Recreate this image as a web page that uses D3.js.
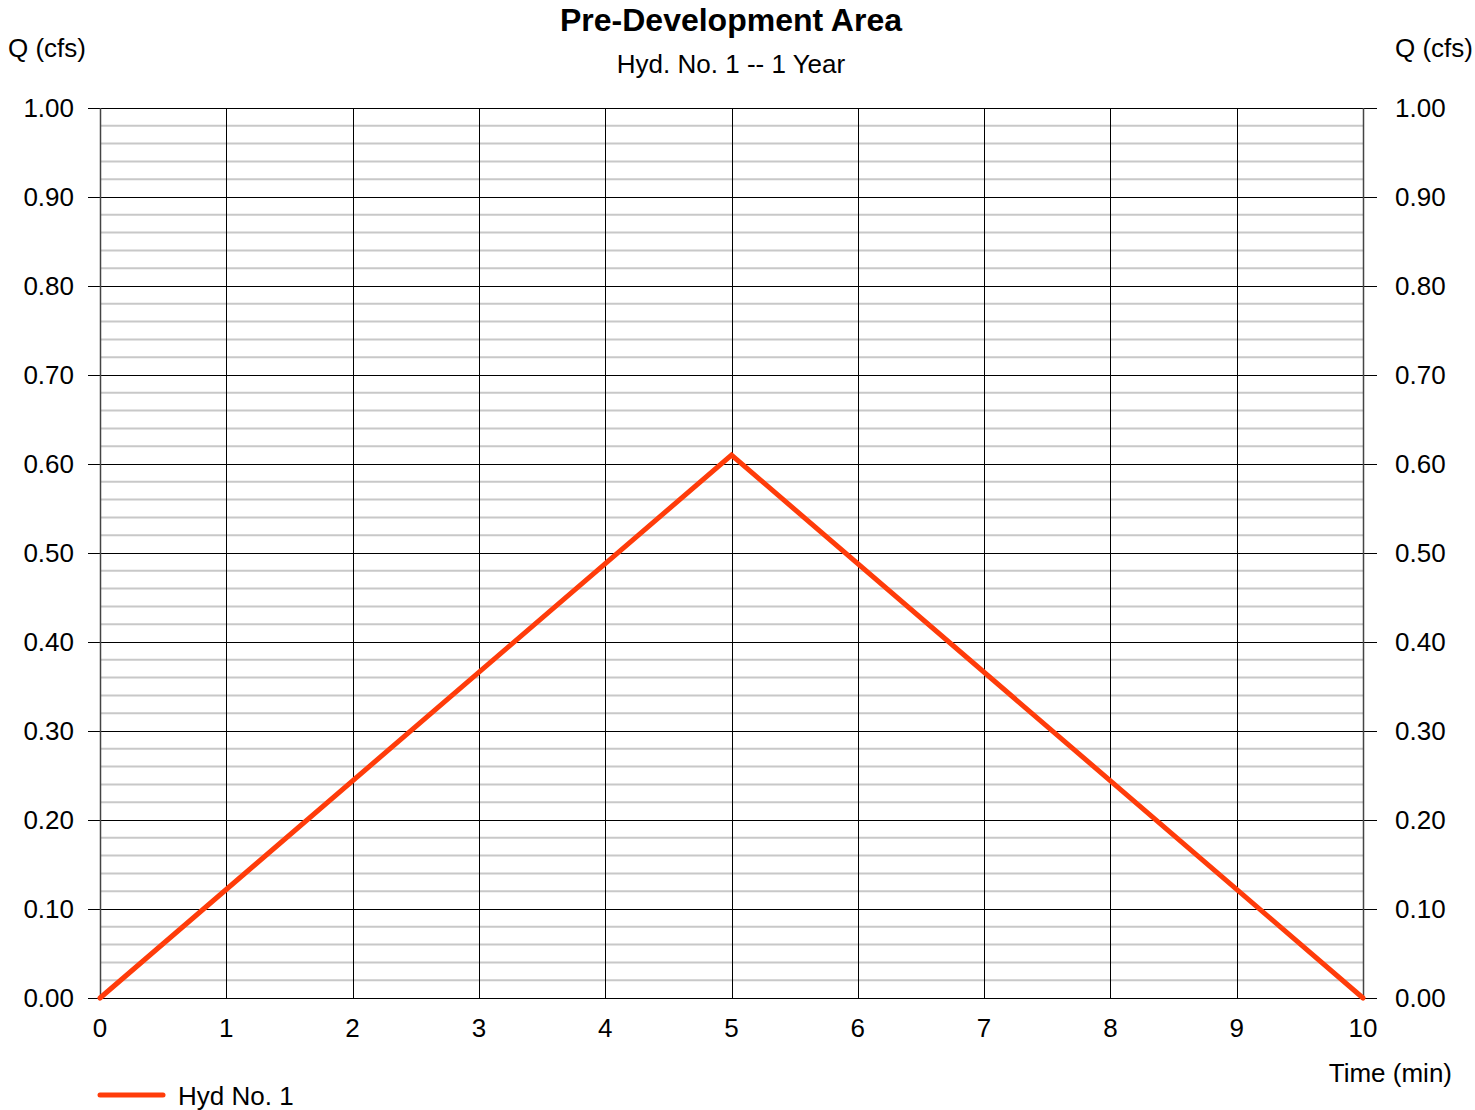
<!DOCTYPE html>
<html><head><meta charset="utf-8">
<script src="https://cdn.jsdelivr.net/npm/d3@7"></script>
<style>body{margin:0;background:#fff}svg{display:block;font-family:"Liberation Sans",Arial,sans-serif}</style>
</head><body><svg id="c" width="1475" height="1110"></svg>
<script>
const title = "Pre-Development Area";
const subtitle = "Hyd. No. 1 -- 1 Year";
const timeMin = [0, 5, 10];
const flowCfs = [0, 0.61, 0];
const xTicks = [0,1,2,3,4,5,6,7,8,9,10];
const yTicks = [0,0.1,0.2,0.3,0.4,0.5,0.6,0.7,0.8,0.9,1.0];
const seriesName = "Hyd No. 1";

const svg = d3.select("#c");
const L = 100, R = 1363, T = 108, B = 998;
const x = d3.scaleLinear().domain([0,10]).range([L,R]);
const y = d3.scaleLinear().domain([0,1]).range([B,T]);
const FS = 26;

// minor grid
const minor = d3.range(0, 1.0001, 0.02).filter(v => Math.abs(v*10 - Math.round(v*10)) > 1e-6);
svg.append("g").selectAll("line").data(minor).join("line")
  .attr("x1", L).attr("x2", R).attr("y1", d=>y(d)).attr("y2", d=>y(d))
  .attr("stroke", "#c8c8c8").attr("stroke-width", 2);

// major horizontal grid with outside ticks
svg.append("g").selectAll("line").data(yTicks).join("line")
  .attr("x1", L-12).attr("x2", R+14).attr("y1", d=>Math.round(y(d))+0.5).attr("y2", d=>Math.round(y(d))+0.5)
  .attr("stroke", "#000").attr("stroke-width", 1);

// vertical grid
svg.append("g").selectAll("line").data(xTicks).join("line")
  .attr("x1", d=>Math.round(x(d))+0.5).attr("x2", d=>Math.round(x(d))+0.5).attr("y1", T).attr("y2", B)
  .attr("stroke", d => (d===0||d===10) ? "#444" : "#000").attr("stroke-width", d => (d===0||d===10)?1.5:1);

// y labels left/right
svg.append("g").selectAll("text").data(yTicks).join("text")
  .attr("x", 74).attr("y", d=>y(d)+9).attr("text-anchor","end")
  .attr("font-size", FS).text(d=>d.toFixed(2));
svg.append("g").selectAll("text").data(yTicks).join("text")
  .attr("x", 1395).attr("y", d=>y(d)+9).attr("text-anchor","start")
  .attr("font-size", FS).text(d=>d.toFixed(2));
// x labels
svg.append("g").selectAll("text").data(xTicks).join("text")
  .attr("x", d=>x(d)).attr("y", 1037).attr("text-anchor","middle")
  .attr("font-size", FS).text(d=>d);

// titles
svg.append("text").attr("x", 731).attr("y", 31).attr("text-anchor","middle")
  .attr("font-size", 32).attr("font-weight","bold").text(title);
svg.append("text").attr("x", 731).attr("y", 73).attr("text-anchor","middle")
  .attr("font-size", FS).text(subtitle);
svg.append("text").attr("x", 8).attr("y", 57).attr("font-size", FS).text("Q (cfs)");
svg.append("text").attr("x", 1473).attr("y", 57).attr("text-anchor","end").attr("font-size", FS).text("Q (cfs)");
svg.append("text").attr("x", 1452).attr("y", 1082).attr("text-anchor","end").attr("font-size", FS).text("Time (min)");

// series
const data = timeMin.map((t,i)=>({t, q: flowCfs[i]}));
svg.append("path").datum(data)
  .attr("d", d3.line().x(d=>x(d.t)).y(d=>y(d.q)))
  .attr("fill","none").attr("stroke","#ff3c0a").attr("stroke-width",5)
  .attr("stroke-linejoin","miter").attr("stroke-linecap","round");

// legend
svg.append("line").attr("x1",100).attr("x2",163).attr("y1",1095).attr("y2",1095)
  .attr("stroke","#ff3c0a").attr("stroke-width",5).attr("stroke-linecap","round");
svg.append("text").attr("x",178).attr("y",1105).attr("font-size",FS).text(seriesName);
</script></body></html>
